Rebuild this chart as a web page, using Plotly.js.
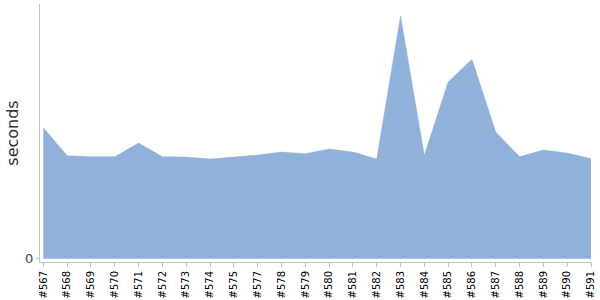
<!DOCTYPE html>
<html>
<head>
<meta charset="utf-8">
<script src="https://cdn.plot.ly/plotly-3.0.1.min.js"></script>
<style>html,body{margin:0;padding:0;background:#fff;}#chart{width:600px;height:300px;}</style>
</head>
<body>
<div id="chart"></div>
<script>
const builds = ["#567","#568","#569","#570","#571","#572","#573","#574","#575","#577","#578","#579","#580","#581","#582","#583","#584","#585","#586","#587","#588","#589","#590","#591"];
const seconds = [65.5,51.5,51,51,57.8,51,50.8,49.8,50.8,51.8,53.3,52.5,54.8,53.3,49.8,121.3,51.7,88.3,99.7,63.3,51,54.3,52.8,50];
const yTicks = [0];

const trace = {
  type: 'scatter',
  mode: 'lines',
  x: builds,
  y: seconds,
  fill: 'tozeroy',
  fillcolor: '#8fb1da',
  line: {color: '#8fb1da', width: 0.5},
  hoverinfo: 'x+y'
};

const layout = {
  width: 600,
  height: 300,
  margin: {l: 40, r: 9, t: 4, b: 38},
  paper_bgcolor: '#ffffff',
  plot_bgcolor: '#ffffff',
  showlegend: false,
  font: {family: 'DejaVu Sans', color: '#000'},
  xaxis: {
    type: 'category',
    range: [-0.14, 23],
    showgrid: false,
    zeroline: false,
    showline: true,
    linecolor: '#c0c0c0',
    linewidth: 1,
    ticks: 'outside',
    ticklen: 4,
    tickcolor: '#c0c0c0',
    tickangle: -90,
    tickfont: {family: 'DejaVu Sans', size: 10, color: '#000'}
  },
  yaxis: {
    range: [-1.65, 127.35],
    tickvals: yTicks,
    ticktext: yTicks.map(String),
    showgrid: false,
    zeroline: false,
    showline: true,
    linecolor: '#c0c0c0',
    linewidth: 1,
    ticks: 'outside',
    ticklen: 3,
    tickcolor: '#c0c0c0',
    tickfont: {family: 'DejaVu Sans', size: 13, color: '#444'},
    title: {text: 'seconds', font: {family: 'DejaVu Sans', size: 16, color: '#333'}, standoff: 2}
  }
};

Plotly.newPlot('chart', [trace], layout, {displayModeBar: false, staticPlot: true});
</script>
</body>
</html>
